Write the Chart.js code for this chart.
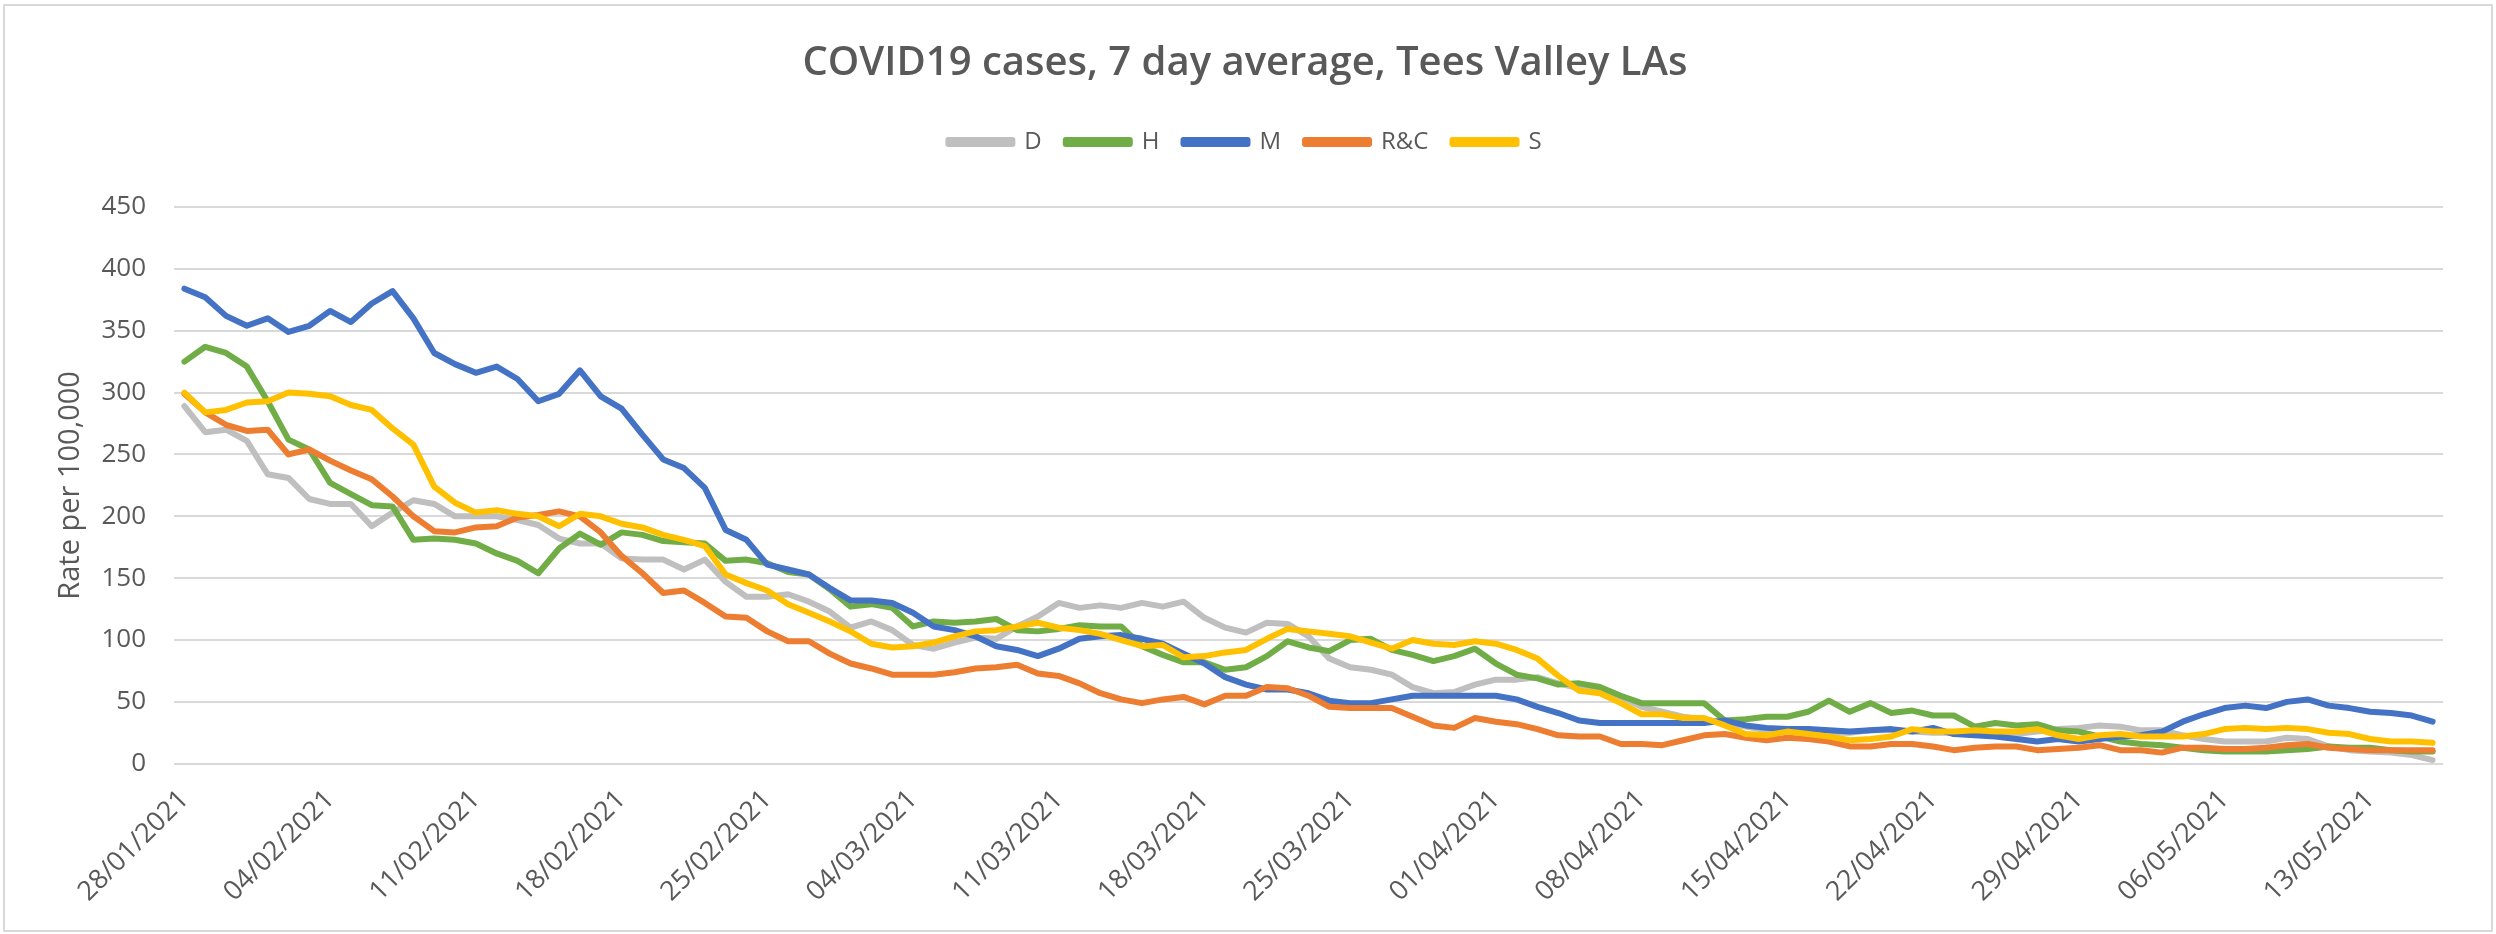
<!DOCTYPE html>
<html>
<head>
<meta charset="utf-8">
<title>COVID19 cases, 7 day average, Tees Valley LAs</title>
<script src="https://cdn.jsdelivr.net/npm/chart.js@4.4.1/dist/chart.umd.min.js"></script>
<style>
  html, body { margin: 0; padding: 0; background: #fff; }
  #wrap { width: 2496px; height: 934px; }
</style>
</head>
<body>
<div id="wrap"><canvas id="casesChart" width="2496" height="934"></canvas></div>
<script>
/* =========================
   DATA
========================= */

const dates = [
  '28/01/2021', '29/01/2021', '30/01/2021', '31/01/2021',
  '01/02/2021', '02/02/2021', '03/02/2021', '04/02/2021', '05/02/2021', '06/02/2021', '07/02/2021',
  '08/02/2021', '09/02/2021', '10/02/2021', '11/02/2021', '12/02/2021', '13/02/2021', '14/02/2021',
  '15/02/2021', '16/02/2021', '17/02/2021', '18/02/2021', '19/02/2021', '20/02/2021', '21/02/2021',
  '22/02/2021', '23/02/2021', '24/02/2021', '25/02/2021', '26/02/2021', '27/02/2021', '28/02/2021',
  '01/03/2021', '02/03/2021', '03/03/2021', '04/03/2021', '05/03/2021', '06/03/2021', '07/03/2021',
  '08/03/2021', '09/03/2021', '10/03/2021', '11/03/2021', '12/03/2021', '13/03/2021', '14/03/2021',
  '15/03/2021', '16/03/2021', '17/03/2021', '18/03/2021', '19/03/2021', '20/03/2021', '21/03/2021',
  '22/03/2021', '23/03/2021', '24/03/2021', '25/03/2021', '26/03/2021', '27/03/2021', '28/03/2021',
  '29/03/2021', '30/03/2021', '31/03/2021', '01/04/2021', '02/04/2021', '03/04/2021', '04/04/2021',
  '05/04/2021', '06/04/2021', '07/04/2021', '08/04/2021', '09/04/2021', '10/04/2021', '11/04/2021',
  '12/04/2021', '13/04/2021', '14/04/2021', '15/04/2021', '16/04/2021', '17/04/2021', '18/04/2021',
  '19/04/2021', '20/04/2021', '21/04/2021', '22/04/2021', '23/04/2021', '24/04/2021', '25/04/2021',
  '26/04/2021', '27/04/2021', '28/04/2021', '29/04/2021', '30/04/2021', '01/05/2021', '02/05/2021',
  '03/05/2021', '04/05/2021', '05/05/2021', '06/05/2021', '07/05/2021', '08/05/2021', '09/05/2021',
  '10/05/2021', '11/05/2021', '12/05/2021', '13/05/2021', '14/05/2021', '15/05/2021', '16/05/2021'
];

// Darlington
const D = [
  289, 268, 270, 261, 234, 231, 214, 210, 210, 192, 203, 213, 210, 200, 200, 200, 197, 193, 182, 178, 178, 166, 165, 165, 157,
  165, 147, 135, 135, 137, 131, 123, 110, 115, 108, 96, 93, 98, 102, 101, 111, 119, 130, 126, 128, 126, 130, 127, 131,
  118, 110, 106, 114, 113, 103, 85, 78, 76, 72, 62, 57, 58, 64, 68, 68, 70, 65, 61, 58, 54, 46, 42, 38,
  36, 33, 30, 27, 26, 26, 25, 25, 27, 27, 26, 25, 25, 24, 24, 24, 26, 28, 29, 31, 30, 27, 27, 23,
  20, 18, 18, 18, 21, 20, 14, 11, 10, 9, 7, 3
];

// Hartlepool
const H = [
  325, 337, 332, 321, 293, 262, 254, 227, 218, 209, 208, 181, 182, 181, 178, 170, 164, 154, 174, 186, 177, 187, 185, 180, 179,
  178, 164, 165, 162, 155, 153, 141, 127, 129, 126, 111, 115, 114, 115, 117, 108, 107, 109, 112, 111, 111, 95, 88, 82,
  82, 76, 78, 87, 99, 94, 91, 100, 101, 92, 88, 83, 87, 93, 81, 72, 69, 64, 65, 62, 55, 49, 49, 49,
  49, 35, 36, 38, 38, 42, 51, 42, 49, 41, 43, 39, 39, 30, 33, 31, 32, 27, 26, 22, 18, 16, 15, 13,
  11, 10, 10, 10, 11, 12, 14, 13, 13, 11, 10, 10
];

// Middlesbrough
const M = [
  384, 377, 362, 354, 360, 349, 354, 366, 357, 372, 382, 360, 332, 323, 316, 321, 311, 293, 299, 318, 297, 287, 266, 246, 239,
  223, 189, 181, 161, 157, 153, 142, 132, 132, 130, 122, 111, 108, 103, 95, 92, 87, 93, 101, 103, 104, 101, 97, 89,
  81, 70, 64, 60, 60, 57, 51, 49, 49, 52, 55, 55, 55, 55, 55, 52, 46, 41, 35, 33, 33, 33, 33, 33,
  33, 35, 31, 29, 28, 28, 27, 26, 27, 28, 26, 29, 24, 23, 22, 20, 18, 20, 18, 20, 22, 23, 26, 34,
  40, 45, 47, 45, 50, 52, 47, 45, 42, 41, 39, 34
];

// Redcar & Cleveland
const RC = [
  299, 284, 274, 269, 270, 250, 254, 245, 237, 230, 216, 200, 188, 187, 191, 192, 199, 201, 204, 200, 187, 168, 154, 138, 140,
  130, 119, 118, 107, 99, 99, 89, 81, 77, 72, 72, 72, 74, 77, 78, 80, 73, 71, 65, 57, 52, 49, 52, 54,
  48, 55, 55, 62, 61, 55, 46, 45, 45, 45, 38, 31, 29, 37, 34, 32, 28, 23, 22, 22, 16, 16, 15, 19,
  23, 24, 21, 19, 21, 20, 18, 14, 14, 16, 16, 14, 11, 13, 14, 14, 11, 12, 13, 15, 11, 11, 9, 13,
  13, 12, 12, 13, 15, 16, 13, 12, 11, 11, 11, 11
];

// Stockton
const S = [
  300, 284, 286, 292, 293, 300, 299, 297, 290, 286, 271, 258, 224, 211, 203, 205, 202, 200, 192, 202, 200, 194, 191, 185, 181,
  176, 153, 146, 140, 129, 122, 115, 107, 97, 94, 95, 98, 103, 107, 108, 111, 114, 110, 108, 105, 100, 95, 96, 86,
  87, 90, 92, 101, 109, 107, 105, 103, 98, 93, 100, 97, 96, 99, 97, 92, 85, 71, 59, 57, 49, 40, 40, 37,
  37, 31, 24, 23, 26, 24, 22, 19, 20, 22, 28, 26, 26, 27, 26, 26, 28, 23, 20, 23, 24, 22, 22, 22,
  24, 28, 29, 28, 29, 28, 25, 24, 20, 18, 18, 17
];

const seriesNames = ['D', 'H', 'M', 'R&C', 'S'];
const seriesColors = ['#BFBFBF', '#70AD47', '#4472C4', '#ED7D31', '#FFC000'];
const yTicks = [0, 50, 100, 150, 200, 250, 300, 350, 400, 450];

const FONT = "'Open Sans', 'Liberation Sans', sans-serif";
const TEXT_GREY = '#595959';

/* =========================
   CHART FRAME (white bg + light border)
========================= */

const chartFrame = {
  id: 'chartFrame',
  beforeDraw(chart) {
    const ctx = chart.ctx;
    ctx.save();
    ctx.fillStyle = '#ffffff';
    ctx.fillRect(0, 0, chart.width, chart.height);
    ctx.restore();
  },
  afterDraw(chart) {
    const ctx = chart.ctx;
    ctx.save();
    ctx.strokeStyle = '#d9d9d9';
    ctx.lineWidth = 2;
    ctx.strokeRect(4, 5, chart.width - 8, chart.height - 8);
    ctx.restore();
  }
};

/* =========================
   MAIN CHART
========================= */

const allSeries = [D, H, M, RC, S];

const datasets = allSeries.map((values, i) => ({
  label: seriesNames[i],
  data: values,
  borderColor: seriesColors[i],
  backgroundColor: seriesColors[i],
  borderWidth: 6,
  borderJoinStyle: 'round',
  borderCapStyle: 'round',
  pointRadius: 0,
  tension: 0,
  fill: false,
  // later series sit on top, like the Excel original
  order: allSeries.length - i
}));

const ctx = document.getElementById('casesChart').getContext('2d');

const casesChart = new Chart(ctx, {
  type: 'line',
  data: {
    labels: dates,
    datasets: datasets
  },
  options: {
    responsive: false,
    animation: false,
    devicePixelRatio: 1,
    layout: {
      padding: { top: 0, left: 47, right: 53, bottom: 6 }
    },
    plugins: {
      title: {
        display: true,
        text: 'COVID19 cases, 7 day average, Tees Valley LAs',
        color: TEXT_GREY,
        font: { family: FONT, size: 40, weight: '600' },
        padding: { top: 40, bottom: 18 }
      },
      // empty spacer between legend and plot
      subtitle: {
        display: true,
        text: '',
        weight: 500,
        font: { size: 1, lineHeight: 1 },
        padding: { top: 42, bottom: 0 }
      },
      legend: {
        display: true,
        position: 'top',
        labels: {
          boxWidth: 64,
          boxHeight: 4,
          padding: 24,
          color: TEXT_GREY,
          font: { family: FONT, size: 24 },
          sort: (a, b) => a.datasetIndex - b.datasetIndex
        }
      },
      tooltip: { enabled: false }
    },
    scales: {
      x: {
        type: 'category',
        offset: true,
        grid: { display: false, drawTicks: false },
        border: { display: false },
        ticks: {
          autoSkip: false,
          minRotation: 45,
          maxRotation: 45,
          padding: 20,
          color: TEXT_GREY,
          font: { family: FONT, size: 27 },
          callback: function(value, index) {
            return index % 7 === 0 ? this.getLabelForValue(value) : '';
          }
        }
      },
      y: {
        min: yTicks[0],
        max: yTicks[yTicks.length - 1],
        afterBuildTicks: function(scale) {
          scale.ticks = yTicks.map(v => ({ value: v }));
        },
        afterFit: function(scale) {
          scale.width = 127;
        },
        grid: { color: '#d9d9d9', lineWidth: 2, drawTicks: false },
        border: { display: false },
        ticks: {
          padding: 28,
          color: TEXT_GREY,
          font: { family: FONT, size: 26 }
        },
        title: {
          display: true,
          text: 'Rate per 100,000',
          color: TEXT_GREY,
          font: { family: FONT, size: 29 },
          padding: { top: 6, bottom: 16 }
        }
      }
    }
  },
  plugins: [chartFrame]
});
</script>
</body>
</html>
